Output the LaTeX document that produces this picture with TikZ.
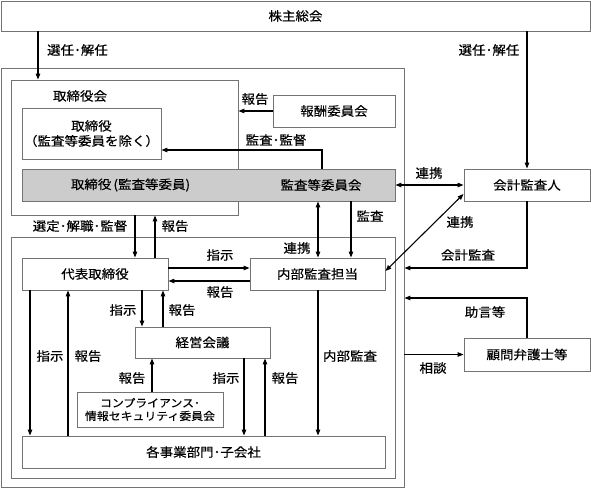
\documentclass[tikz,border=0pt]{standalone}
\usepackage{fontspec}
\setmainfont[FakeStretch=1.08,FakeBold=0.35]{Noto Sans CJK JP}
\usetikzlibrary{arrows.meta}
\begin{document}
\begin{tikzpicture}[x=1pt,y=-1pt,
 box/.style={draw=black!55, line width=0.9pt, fill=white, inner sep=0pt, text=black},
 gbox/.style={box, fill=black!20},
 arr/.style={draw=black, line width=1.1pt, -{Triangle[length=6pt,width=4.5pt]}},
 darr/.style={draw=black, line width=1.1pt, {Triangle[length=6pt,width=4.5pt]}-{Triangle[length=6pt,width=4.5pt]}},
 lbl/.style={inner sep=0pt, text=black},
 every node/.style={font=\fontsize{12.5}{15}\selectfont}]
\useasboundingbox (0,0) rectangle (591,488);
% boxes
\node[box, minimum width=589pt, minimum height=30pt] (kabu) at (295.5,16) {株主総会};
\node[box, minimum width=403pt, minimum height=419pt] (outer) at (202.5,277.5) {};
\node[box, minimum width=227pt, minimum height=135pt] (board) at (124.5,147.5) {};
\node[lbl] (boardlbl) at (80,96) {取締役会};
\node[box, minimum width=139pt, minimum height=51pt, align=center] (tori) at (91.5,133.5) {取締役\\（監査等委員を除く）};
\node[gbox, minimum width=373pt, minimum height=32pt] (gray) at (208.5,185) {};
\node[lbl] (gtori) at (130.5,185) {取締役\,(監査等委員)};
\node[lbl] (gkansa) at (321,185) {監査等委員会};
\node[box, minimum width=122pt, minimum height=32pt] (hoshu) at (334,111) {報酬委員会};
\node[box, minimum width=126pt, minimum height=32pt] (kaikei) at (527,185) {会計監査人};
\node[box, minimum width=384pt, minimum height=241pt] (lower) at (203,357.5) {};
\node[box, minimum width=146pt, minimum height=32pt] (daihyo) at (95,274) {代表取締役};
\node[box, minimum width=135pt, minimum height=32pt] (naibu) at (317.5,274) {内部監査担当};
\node[box, minimum width=135pt, minimum height=31pt] (keiei) at (202.5,342.5) {経営会議};
\node[box, minimum width=146pt, minimum height=35pt, align=center, font=\fontsize{11}{13}\selectfont] (comp) at (150,409.5) {コンプライアンス･\\情報セキュリティ委員会};
\node[box, minimum width=363pt, minimum height=32pt] (jigyo) at (203.5,452) {各事業部門･子会社};
\node[box, minimum width=126pt, minimum height=33pt] (komon) at (527,354.5) {顧問弁護士等};
% connectors
\draw[arr] (kabu.south -| 38,0) -- (board.north -| 38,0);
\node[lbl] (l1) at (77.5,50) {選任･解任};
\draw[arr] (kabu.south -| kaikei.north) -- (kaikei.north);
\node[lbl] (l2) at (489,50) {選任･解任};
\draw[arr] (hoshu.west) -- (board.east |- hoshu.west);
\node[lbl] (l3) at (255,99) {報告};
\draw[arr] (gray.north -| 322,0) -- (322,150) -- (tori.east |- 0,150);
\node[lbl] (l4) at (276,140) {監査･監督};
\draw[darr] (gray.east) -- (kaikei.west);
\node[lbl] (l5) at (429,173) {連携};
\draw[darr] (kaikei.west |- 0,194) -- (naibu.east |- 0,271);
\node[lbl] (l6) at (460,222) {連携};
\draw[arr] (kaikei.south) |- (outer.east |- 0,268);
\node[lbl] (l7) at (468,255) {会計監査};
\draw[arr] (komon.north) |- (outer.east |- 0,298);
\node[lbl] (l8) at (485,312) {助言等};
\draw[arr] (outer.east |- komon.west) -- (komon.west);
\node[lbl] (l9) at (433,368) {相談};
\draw[arr] (board.south -| 135,0) -- (daihyo.north -| 135,0);
\node[lbl] (l10) at (80,226) {選定･解職･監督};
\draw[arr] (daihyo.north -| 155,0) -- (board.south -| 155,0);
\node[lbl] (l11) at (175,226) {報告};
\draw[arr] (gray.south -| 351,0) -- (naibu.north -| 351,0);
\node[lbl] (l12) at (370,216) {監査};
\draw[darr] (gray.south -| 318,0) -- (naibu.north -| 318,0);
\node[lbl] (l13) at (297,248) {連携};
\draw[arr] (daihyo.east |- 0,268) -- (naibu.west |- 0,268);
\node[lbl] (l14) at (220,255) {指示};
\draw[arr] (naibu.west |- 0,281) -- (daihyo.east |- 0,281);
\node[lbl] (l15) at (220,292) {報告};
\draw[arr] (daihyo.south -| 142,0) -- (keiei.north -| 142,0);
\node[lbl] (l16) at (123,310) {指示};
\draw[arr] (keiei.north -| 163,0) -- (daihyo.south -| 163,0);
\node[lbl] (l17) at (182,310) {報告};
\draw[arr] (daihyo.south -| 30,0) -- (jigyo.north -| 30,0);
\node[lbl] (l18) at (50,356) {指示};
\draw[arr] (jigyo.north -| 68,0) -- (daihyo.south -| 68,0);
\node[lbl] (l19) at (88,356) {報告};
\draw[arr] (comp.north -| 152,0) -- (keiei.south -| 152,0);
\node[lbl] (l20) at (132,378) {報告};
\draw[arr] (keiei.south -| 244,0) -- (jigyo.north -| 244,0);
\node[lbl] (l21) at (226,378) {指示};
\draw[arr] (jigyo.north -| 265,0) -- (keiei.south -| 265,0);
\node[lbl] (l22) at (285,378) {報告};
\draw[arr] (naibu.south -| 318,0) -- (jigyo.north -| 318,0);
\node[lbl] (l23) at (350,356) {内部監査};
\end{tikzpicture}
\end{document}
